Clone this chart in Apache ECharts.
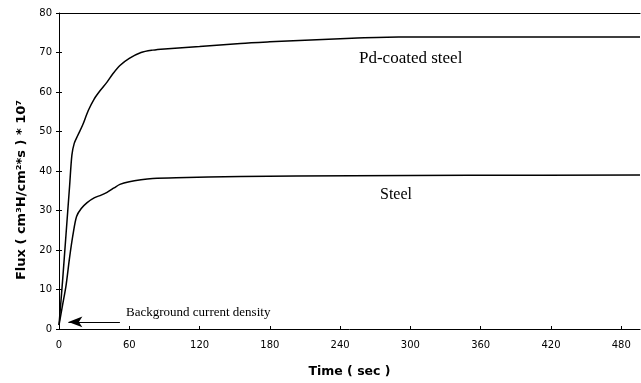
<!DOCTYPE html>
<html><head><meta charset="utf-8">
<script src="https://cdn.jsdelivr.net/npm/echarts@6/dist/echarts.min.js"></script>
<style>html,body{margin:0;padding:0;background:#fff}#c{width:641px;height:383px}</style>
</head><body><div id="c"></div>
<script>
const pdTime  = [0, 3, 6, 9, 11, 13, 16, 20, 25, 30, 35, 41, 46, 52, 60, 70, 80, 90, 120, 155, 180, 210, 250, 290, 350, 420, 496];
const pdFlux  = [1, 12, 24, 36, 44, 47, 49, 51.5, 55.3, 58.2, 60.3, 62.5, 64.6, 66.7, 68.5, 70, 70.6, 70.9, 71.5, 72.3, 72.7, 73.1, 73.6, 73.9, 73.9, 73.9, 73.9];
const stTime  = [0, 3, 6, 9, 12, 15, 19, 24, 30, 36, 41, 47, 52, 60, 70, 80, 100, 155, 250, 350, 496];
const stFlux  = [1, 6, 11, 18, 24, 28.5, 30.5, 32, 33.2, 33.9, 34.6, 35.7, 36.6, 37.3, 37.8, 38.1, 38.3, 38.6, 38.8, 38.9, 39];
const arrowFrom = [52, 1.8], arrowTo = [8, 1.8];

const chart = echarts.init(document.getElementById('c'));
const axisFont = {fontFamily: 'DejaVu Sans', fontSize: 10, color: '#000'};
chart.setOption({
  animation: false,
  grid: {left: 59, top: 13, right: 1, bottom: 53},
  xAxis: [{
    type: 'value', min: 0, max: 496, interval: 60,
    axisLine: {lineStyle: {color: '#000', width: 1}},
    axisTick: {inside: true, length: 3, lineStyle: {color: '#000'}},
    axisLabel: Object.assign({margin: 11, showMaxLabel: false}, axisFont),
    splitLine: {show: false},
    name: 'Time ( sec )', nameLocation: 'middle', nameGap: 36,
    nameTextStyle: {fontFamily: 'DejaVu Sans', fontSize: 12.5, fontWeight: 'bold', color: '#000'}
  }, {
    type: 'value', position: 'top', min: 0, max: 496,
    axisLine: {show: true, onZero: false, lineStyle: {color: '#000', width: 1.2}},
    axisTick: {show: false}, axisLabel: {show: false}, splitLine: {show: false}
  }],
  yAxis: [{
    type: 'value', min: 0, max: 80, interval: 10,
    axisLine: {show: true, lineStyle: {color: '#000', width: 1}},
    axisTick: {show: true, length: 3, lineStyle: {color: '#000'}},
    axisLabel: Object.assign({margin: 7}, axisFont),
    splitLine: {show: false},
    name: 'Flux ( cm³H/cm²*s ) * 10⁷', nameLocation: 'middle', nameGap: 30,
    nameTextStyle: {fontFamily: 'DejaVu Sans', fontSize: 13, fontWeight: 'bold', color: '#000', padding: [0, 38, 0, 0]}
  }, {
    type: 'value', position: 'left', min: 0, max: 80, interval: 10,
    axisLine: {show: false, onZero: false}, axisTick: {show: true, inside: true, length: 3, lineStyle: {color: '#000'}},
    axisLabel: {show: false}, splitLine: {show: false}
  }],
  series: [{
    type: 'line', name: 'Pd-coated steel', showSymbol: false, smooth: 0.3,
    lineStyle: {color: '#000', width: 1.5},
    data: pdTime.map((t, i) => [t, pdFlux[i]])
  }, {
    type: 'line', name: 'Steel', showSymbol: false, smooth: 0.3,
    lineStyle: {color: '#000', width: 1.5},
    data: stTime.map((t, i) => [t, stFlux[i]]),
    markLine: {
      silent: true, symbol: ['none', 'arrow'], symbolSize: [8, 14],
      lineStyle: {color: '#000', width: 1.2, type: 'solid'},
      label: {show: false},
      data: [[{coord: arrowFrom}, {coord: arrowTo}]]
    }
  }],
  graphic: [
    {type: 'text', left: 359, top: 50, style: {text: 'Pd-coated steel', font: '17px "Liberation Serif"', fill: '#000'}},
    {type: 'text', left: 380, top: 187, style: {text: 'Steel', font: '16px "Liberation Serif"', fill: '#000'}},
    {type: 'text', left: 126, top: 306, style: {text: 'Background current density', font: '13px "Liberation Serif"', fill: '#000'}}
  ]
});
</script></body></html>
